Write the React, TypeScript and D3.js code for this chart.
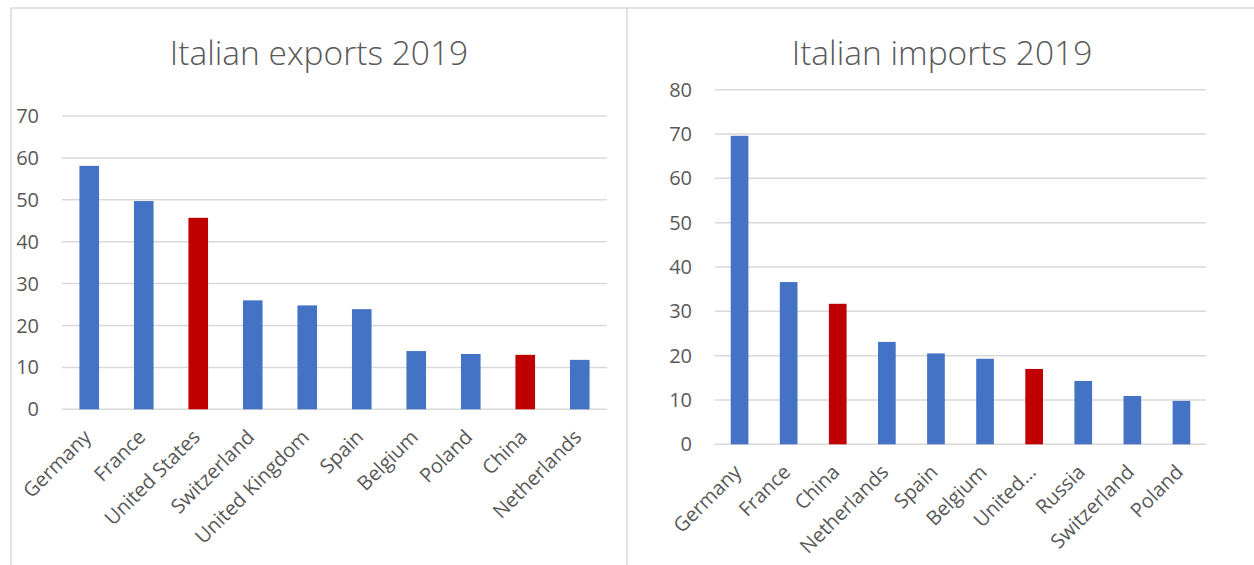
import React from "react";
import * as d3 from "d3";

const exportCountries = ["Germany", "France", "United States", "Switzerland", "United Kingdom", "Spain", "Belgium", "Poland", "China", "Netherlands"];
const exportValues = [58.1, 49.7, 45.7, 26.0, 24.8, 23.9, 13.9, 13.2, 13.0, 11.8];
const exportHighlight = ["United States", "China"];
const exportTicks = [0, 10, 20, 30, 40, 50, 60, 70];

const importCountries = ["Germany", "France", "China", "Netherlands", "Spain", "Belgium", "United…", "Russia", "Switzerland", "Poland"];
const importValues = [69.6, 36.6, 31.7, 23.1, 20.5, 19.3, 17.0, 14.3, 10.9, 9.8];
const importHighlight = ["China", "United…"];
const importTicks = [0, 10, 20, 30, 40, 50, 60, 70, 80];

const BLUE = "#4472C4";
const RED = "#C00000";
const GRID = "#d9d9d9";
const TEXT = "#595959";
const FONT = "'Open Sans', sans-serif";

type PanelProps = {
  title: string;
  titleX: number;
  cats: string[];
  vals: number[];
  hi: string[];
  ticks: number[];
  x0: number;
  x1: number;
  y0: number;
  y1: number;
};

function Panel({ title, titleX, cats, vals, hi, ticks, x0, x1, y0, y1 }: PanelProps) {
  const maxT = ticks[ticks.length - 1];
  const x = d3.scaleBand<string>().domain(cats).range([x0, x1]).paddingInner(0.64).paddingOuter(0.32);
  const y = d3.scaleLinear().domain([0, maxT]).range([y0, y1]);
  return (
    <g>
      <text x={titleX} y={64.5} textAnchor="middle" fontFamily={FONT} fontWeight={300} fontSize={33.5} fill={TEXT}>
        {title}
      </text>
      {ticks.map((t) => (
        <g key={t}>
          <line x1={x0} x2={x1} y1={y(t)} y2={y(t)} stroke={GRID} strokeWidth={1.5} />
          <text x={x0 - 23} y={y(t)} dy="0.35em" textAnchor="end" fontFamily={FONT} fontSize={20} fill={TEXT}>
            {t}
          </text>
        </g>
      ))}
      {cats.map((c, i) => (
        <rect
          key={c}
          x={x(c)}
          y={y(vals[i])}
          width={x.bandwidth()}
          height={y(0) - y(vals[i])}
          fill={hi.includes(c) ? RED : BLUE}
        />
      ))}
      {cats.map((c) => {
        const cx = (x(c) as number) + x.bandwidth() / 2 + 3;
        const cy = y(0) + 29;
        return (
          <text
            key={"l" + c}
            transform={`translate(${cx},${cy}) rotate(-45)`}
            textAnchor="end"
            fontFamily={FONT}
            fontSize={20}
            fill={TEXT}
          >
            {c}
          </text>
        );
      })}
    </g>
  );
}

export default function App() {
  return (
    <svg width={1254} height={565} style={{ position: "absolute", left: 0, top: 0, background: "#fff" }}>
      <rect x={0} y={0} width={1254} height={565} fill="#fff" />
      <line x1={11} x2={1254} y1={8} y2={8} stroke={GRID} strokeWidth={1.5} />
      <line x1={11} x2={11} y1={8} y2={565} stroke={GRID} strokeWidth={1.5} />
      <line x1={627} x2={627} y1={8} y2={565} stroke={GRID} strokeWidth={1.5} />
      <Panel
        title="Italian exports 2019"
        titleX={319}
        cats={exportCountries}
        vals={exportValues}
        hi={exportHighlight}
        ticks={exportTicks}
        x0={62}
        x1={607}
        y0={409.3}
        y1={116}
      />
      <Panel
        title="Italian imports 2019"
        titleX={942}
        cats={importCountries}
        vals={importValues}
        hi={importHighlight}
        ticks={importTicks}
        x0={715}
        x1={1206}
        y0={444.3}
        y1={89.7}
      />
    </svg>
  );
}
